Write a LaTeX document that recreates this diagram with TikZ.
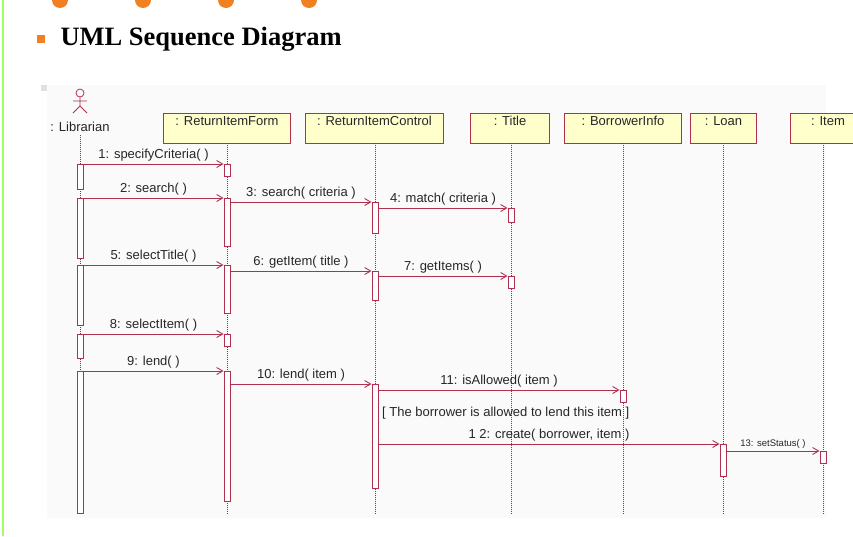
\documentclass[tikz,border=0pt]{standalone}
\usepackage{fontspec}
\setmainfont{Liberation Sans}
\newfontfamily\serifb{Liberation Serif}
\usetikzlibrary{arrows.meta}
\definecolor{uml}{HTML}{B03050}
\definecolor{boxfill}{HTML}{FFFFCC}
\definecolor{orng}{HTML}{F08020}
\begin{document}
\begin{tikzpicture}[x=1pt,y=-1pt,
  obj/.style={draw=uml,fill=boxfill,line width=1pt,minimum height=30pt,anchor=north west,inner sep=0pt},
  life/.style={densely dotted,line width=1pt,black!70},
  act/.style={draw=uml,fill=white,line width=1pt},
  msg/.style={uml,line width=0.9pt,-{Straight Barb[length=6pt,width=7pt]}},
  lbl/.style={font=\fontsize{13}{13}\selectfont,inner sep=1pt,text=black!85},
  hd/.style={font=\fontsize{13}{13}\selectfont,inner sep=0pt,text=black!85}]
\useasboundingbox (0,0) rectangle (853,536);
\fill[white] (0,0) rectangle (853,536);
\draw[green!50!lime!60,line width=1.5pt] (3,0) -- (3,536);
\foreach \x in {60,143,226,309} \fill[orng] (\x,0) circle (8);
\fill[orng] (37,35) rectangle (45,43);
\node[anchor=west,font=\serifb\bfseries\fontsize{26.5}{28}\selectfont] (title) at (57,39) {UML Sequence Diagram};
\fill[black!2] (47,85) rectangle (826,518);
\fill[black!12] (41,85) rectangle (47,91);
% actor
\draw[uml,line width=0.8pt] (80,93) circle (4);
\draw[uml,line width=0.8pt] (80,97) -- (80,106) (73,101) -- (87,101) (73,113) -- (80,106) -- (87,113);
\node[hd] (lib) at (80,127) {: Librarian};
% objects
\node[obj,minimum width=127pt] (rif) at (163,113) {};
\node[obj,minimum width=138pt] (ric) at (305,113) {};
\node[obj,minimum width=79pt] (tit) at (470,113) {};
\node[obj,minimum width=117pt] (bi) at (564,113) {};
\node[obj,minimum width=66pt] (loan) at (690,113) {};
% lifelines
\foreach \x/\a in {80/135,227/143,375/143,511/143,623/143,723/143,823/143}
  \draw[life] (\x,\a) -- (\x,515);
\fill[white] (826,100) rectangle (853,518);
\node[obj,minimum width=70pt] (item) at (790,113) {};
\foreach \n/\t in {rif/ReturnItemForm,ric/ReturnItemControl,tit/Title,bi/BorrowerInfo,loan/Loan}
  \node[hd] at ([yshift=-8pt]\n.north) {: \t};
\node[hd] at (828,121) {: Item};
% activations
\newcommand{\actb}[4]{\node[act,minimum width=6pt,minimum height=#4-#3,inner sep=0pt,anchor=north] (#1) at (#2,#3) {};}
\actb{l1}{80}{164}{189}\actb{l2}{80}{198}{258}\actb{l3}{80}{265}{325}\actb{l4}{80}{334}{358}\actb{l5}{80}{371}{513}
\actb{f1}{227}{164}{176}\actb{f2}{227}{198}{246}\actb{f3}{227}{265}{313}\actb{f4}{227}{334}{346}\actb{f5}{227}{371}{501}
\actb{c1}{375}{202}{233}\actb{c2}{375}{271}{300}\actb{c3}{375}{384}{488}
\actb{t1}{511}{208}{222}\actb{t2}{511}{276}{288}
\actb{b1}{623}{390}{402}
\actb{n1}{723}{444}{476}
\actb{i1}{823}{451}{463}
% messages
\draw[msg] (l1.north east) -- node[lbl,above=1pt]{1: specifyCriteria( )} (f1.north west);
\draw[msg] (l2.north east) -- node[lbl,above=1pt]{2: search( )} (f2.north west);
\draw[msg] (f2.east |- c1.north) -- node[lbl,above=1pt]{3: search( criteria )} (c1.north west);
\draw[msg] (c1.east |- t1.north) -- node[lbl,above=1pt]{4: match( criteria )} (t1.north west);
\draw[msg] (l3.north east) -- node[lbl,above=1pt]{5: selectTitle( )} (f3.north west);
\draw[msg] (f3.east |- c2.north) -- node[lbl,above=1pt]{6: getItem( title )} (c2.north west);
\draw[msg] (c2.east |- t2.north) -- node[lbl,above=1pt]{7: getItems( )} (t2.north west);
\draw[msg] (l4.north east) -- node[lbl,above=1pt]{8: selectItem( )} (f4.north west);
\draw[msg] (l5.north east) -- node[lbl,above=1pt]{9: lend( )} (f5.north west);
\draw[msg] (f5.east |- c3.north) -- node[lbl,above=1pt]{10: lend( item )} (c3.north west);
\draw[msg] (c3.east |- b1.north) -- node[lbl,above=1pt]{11: isAllowed( item )} (b1.north west);
\node[lbl,anchor=west] (guard) at (381,413) {[ The borrower is allowed to lend this item ]};
\draw[msg] (c3.east |- n1.north) -- node[lbl,above=1pt,pos=0.5]{1 2: create( borrower, item )} (n1.north west);
\draw[msg] (n1.east |- i1.north) -- node[lbl,above=1pt,font=\fontsize{9.5}{9.5}\selectfont]{13: setStatus( )} (i1.north west);
\end{tikzpicture}
\end{document}
